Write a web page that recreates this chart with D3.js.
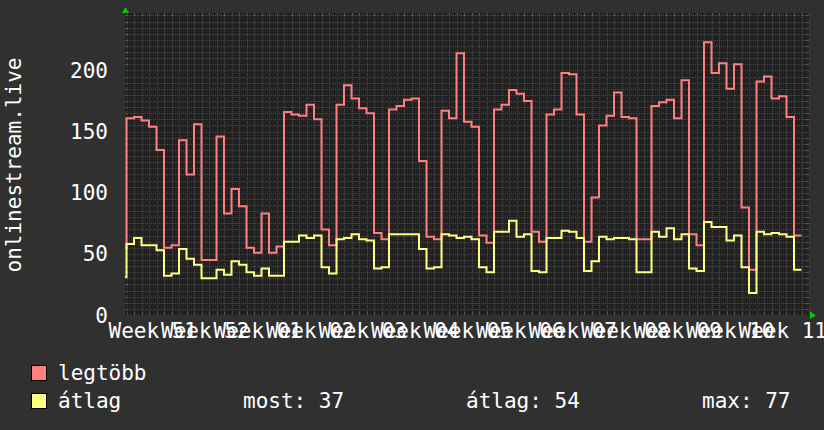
<!DOCTYPE html>
<html>
<head>
<meta charset="utf-8">
<script src="https://cdnjs.cloudflare.com/ajax/libs/d3/7.8.5/d3.min.js"></script>
<style>
body { margin: 0; background: #303030; }
svg text { font-family: "DejaVu Sans Mono", monospace; font-size: 21px; fill: #fff; }
</style>
</head>
<body>
<svg width="824" height="430"></svg>
<script>
// daily values, first entry is the day before the first week starts
var firstDay = -1;
var legtobb = [55,
    161, 162, 159, 154, 135, 55, 57, 143, 115, 156, 45, 45, 146, 83,
    103, 89, 55, 51, 83, 51, 56, 166, 164, 163, 172, 160, 70, 57,
    172, 188, 177, 169, 165, 67, 62, 168, 171, 176, 177, 126, 64, 62,
    167, 161, 214, 158, 154, 65, 59, 168, 172, 184, 181, 175, 68, 60,
    164, 168, 198, 197, 164, 60, 96, 155, 163, 182, 162, 161, 62, 62,
    171, 174, 176, 161, 192, 66, 57, 223, 198, 206, 185, 205, 88, 37,
    191, 195, 177, 179, 162, 65];
var atlag = [31,
    58, 63, 57, 57, 53, 32, 34, 54, 46, 41, 30, 30, 37, 33,
    44, 41, 35, 32, 38, 32, 32, 60, 60, 65, 63, 65, 39, 34,
    62, 63, 66, 62, 61, 38, 39, 66, 66, 66, 66, 54, 38, 39,
    66, 65, 63, 64, 62, 39, 35, 68, 68, 77, 64, 66, 36, 35,
    63, 63, 69, 68, 63, 36, 44, 64, 62, 63, 63, 62, 35, 35,
    68, 64, 71, 62, 66, 38, 36, 76, 72, 72, 61, 65, 39, 18,
    68, 66, 67, 66, 64, 37];
var weekLabels = ["Week 51", "Week 52", "Week 01", "Week 02", "Week 03", "Week 04", "Week 05",
    "Week 06", "Week 07", "Week 08", "Week 09", "Week 10", "Week 11"];
var yTicks = [0, 50, 100, 150, 200];
var seriesNames = ["legtöbb", "átlag"];
var seriesColors = ["#ff7f7f", "#ffff7f"];
var statLabels = ["most: 37", "átlag: 54", "max: 77"];

var svg = d3.select("svg"),
    pLeft = 125, pRight = 809, pTop = 13, pBottom = 315;

var x = d3.scaleLinear().domain([-0.2, 91]).range([pLeft, pRight]);
var y = d3.scaleLinear().domain([0, 247]).range([pBottom, pTop]);

// canvas
svg.append("rect")
    .attr("x", pLeft).attr("y", pTop)
    .attr("width", pRight - pLeft).attr("height", pBottom - pTop)
    .attr("fill", "#222222");

var grid = svg.append("g");

// minor grid
d3.range(0, 92).forEach(function(d) {
    if (d % 7 == 0) return;
    grid.append("line")
        .attr("x1", Math.round(x(d)) + 0.5).attr("x2", Math.round(x(d)) + 0.5)
        .attr("y1", pTop).attr("y2", pBottom)
        .attr("stroke", "#4a4a4a").attr("stroke-dasharray", "1,1");
});
d3.range(5, 247, 5).forEach(function(v) {
    if (v % 50 == 0) return;
    grid.append("line")
        .attr("x1", pLeft).attr("x2", pRight)
        .attr("y1", Math.round(y(v)) + 0.5).attr("y2", Math.round(y(v)) + 0.5)
        .attr("stroke", "#4a4a4a").attr("stroke-dasharray", "1,1");
});

// major grid
d3.range(0, 92, 7).forEach(function(d) {
    grid.append("line")
        .attr("x1", Math.round(x(d)) + 0.5).attr("x2", Math.round(x(d)) + 0.5)
        .attr("y1", pTop).attr("y2", pBottom)
        .attr("stroke", "#6a2e2e").attr("stroke-dasharray", "1,1");
});
yTicks.slice(1).forEach(function(v) {
    grid.append("line")
        .attr("x1", pLeft).attr("x2", pRight)
        .attr("y1", Math.round(y(v)) + 0.5).attr("y2", Math.round(y(v)) + 0.5)
        .attr("stroke", "#6a2e2e").attr("stroke-dasharray", "1,1");
});

// small solid ticks at the grid ends
d3.range(0, 92).forEach(function(d) {
    var c = d % 7 == 0 ? "#6a2e2e" : "#555";
    var xx = Math.round(x(d)) + 0.5;
    grid.append("line").attr("x1", xx).attr("x2", xx)
        .attr("y1", pTop).attr("y2", pTop + 3).attr("stroke", c);
    grid.append("line").attr("x1", xx).attr("x2", xx)
        .attr("y1", pBottom - 3).attr("y2", pBottom).attr("stroke", c);
});
d3.range(5, 247, 5).forEach(function(v) {
    var c = v % 50 == 0 ? "#6a2e2e" : "#555";
    var yy = Math.round(y(v)) + 0.5;
    grid.append("line").attr("x1", pLeft).attr("x2", pLeft + 3)
        .attr("y1", yy).attr("y2", yy).attr("stroke", c);
    grid.append("line").attr("x1", pRight - 3).attr("x2", pRight)
        .attr("y1", yy).attr("y2", yy).attr("stroke", c);
});

// arrows
svg.append("path")
    .attr("d", "M" + (pLeft - 3) + "," + pTop + "L" + (pLeft + 0.5) + "," + (pTop - 6) + "L" + (pLeft + 4) + "," + pTop + "Z")
    .attr("fill", "#00cc00");
svg.append("path")
    .attr("d", "M" + (pRight + 1) + "," + (pBottom - 3.5) + "L" + (pRight + 7) + "," + (pBottom + 0.5) + "L" + (pRight + 1) + "," + (pBottom + 4) + "Z")
    .attr("fill", "#00cc00");

// lines
svg.append("clipPath").attr("id", "clip")
    .append("rect").attr("x", pLeft).attr("y", pTop - 2)
    .attr("width", pRight - pLeft).attr("height", pBottom - pTop + 4);

var line = d3.line()
    .x(function(d) { return x(d.day); })
    .y(function(d) { return y(d.v); })
    .curve(d3.curveStepAfter);

function toPoints(vals) {
    var pts = vals.map(function(v, i) { return { day: firstDay + i, v: v }; });
    pts.push({ day: firstDay + vals.length, v: vals[vals.length - 1] });
    return pts;
}

[legtobb, atlag].forEach(function(vals, i) {
    svg.append("path")
        .attr("clip-path", "url(#clip)")
        .attr("d", line(toPoints(vals)))
        .attr("fill", "none")
        .attr("stroke", seriesColors[i])
        .attr("stroke-width", 2)
        .attr("stroke-linejoin", "miter");
});

// y labels
svg.selectAll(".ylab").data(yTicks).enter().append("text")
    .attr("class", "ylab")
    .attr("x", 108)
    .attr("y", function(d) { return y(d); })
    .attr("dy", "0.36em")
    .attr("text-anchor", "end")
    .text(function(d) { return d; });

// x labels, centred in each week
svg.selectAll(".xlab").data(weekLabels).enter().append("text")
    .attr("class", "xlab")
    .attr("x", function(d, i) { return x(i * 7 + 3.5); })
    .attr("y", 338)
    .attr("text-anchor", "middle")
    .text(function(d) { return d; });

// y title
svg.append("text")
    .attr("transform", "translate(21,165) rotate(-90)")
    .attr("text-anchor", "middle")
    .text("onlinestream.live");

// legend
seriesNames.forEach(function(name, i) {
    svg.append("rect")
        .attr("x", 31.5).attr("y", 365.5 + i * 28)
        .attr("width", 15).attr("height", 15)
        .attr("fill", seriesColors[i]).attr("stroke", "#000");
    svg.append("text")
        .attr("x", 58).attr("y", 380 + i * 28)
        .text(name);
});
[243, 466, 702].forEach(function(px, i) {
    svg.append("text")
        .attr("x", px).attr("y", 408)
        .text(statLabels[i]);
});
</script>
</body>
</html>
